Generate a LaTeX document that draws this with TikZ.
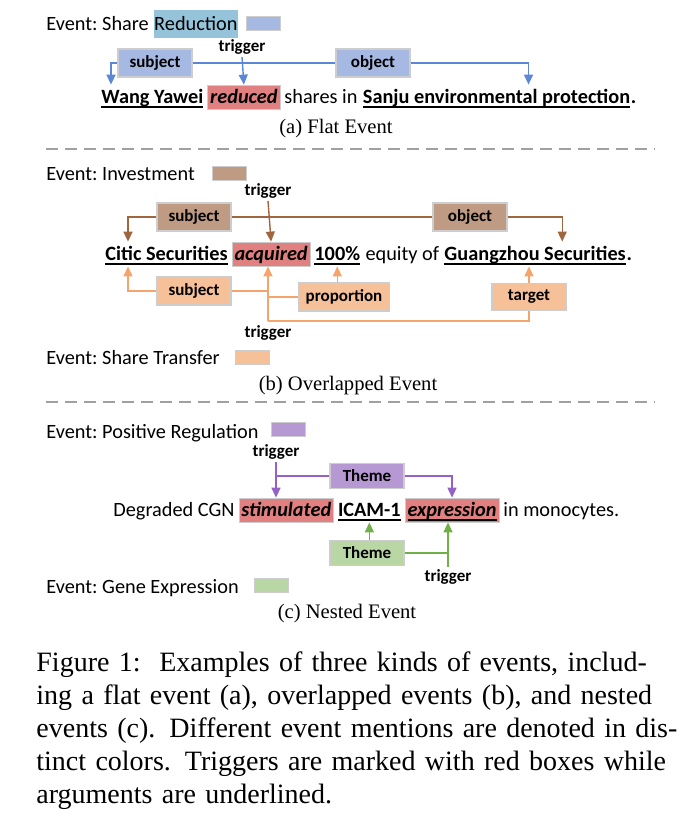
\documentclass[tikz,border=0pt]{standalone}
\usepackage{fontspec}
\setmainfont{Liberation Serif}
\newfontfamily\calib{Carlito}
\usetikzlibrary{arrows.meta,positioning,calc}
\definecolor{evBlueFill}  {RGB}{166,185,226}
\definecolor{evBlueLine}  {RGB}{ 92,135,214}
\definecolor{evTeal}      {RGB}{148,195,218}
\definecolor{evRed}       {RGB}{224,128,128}
\definecolor{evBrownFill} {RGB}{192,155,132}
\definecolor{evBrownLine} {RGB}{160,102, 62}
\definecolor{evOrangeFill}{RGB}{246,192,152}
\definecolor{evOrangeLine}{RGB}{244,164,108}
\definecolor{evPurpleFill}{RGB}{182,152,210}
\definecolor{evPurpleLine}{RGB}{150, 96,200}
\definecolor{evGreenFill} {RGB}{184,215,165}
\definecolor{evGreenLine} {RGB}{112,176, 72}
\definecolor{evBorder}    {RGB}{205,205,205}
\definecolor{evDash}      {RGB}{160,160,160}
\newcommand{\wsz}{\fontsize{10.15}{12}\selectfont\frenchspacing}
\newsavebox{\evulbox}
\newcommand{\evul}[1]{\sbox{\evulbox}{#1}\rlap{\rule[-2.4pt]{\wd\evulbox}{0.7pt}}\usebox{\evulbox}}
\newcommand{\capline}[1]{\makebox[315pt][s]{#1}}

\begin{document}
\begin{tikzpicture}[x=0.5pt,y=-0.5pt,
  every node/.style={font=\calib\wsz},
  evt/.style={anchor=base west,inner sep=0pt},
  wrd/.style={inner xsep=0pt,inner ysep=1.5pt,text height=7.5pt,text depth=1.5pt},
  bwrd/.style={wrd,font=\calib\wsz\bfseries},
  trig/.style={wrd,fill=evRed,draw=evBorder,line width=0.4pt,inner xsep=1.2pt,
               font=\calib\wsz\bfseries\itshape},
  arg/.style={draw=evBorder,line width=0.6pt,minimum width=37pt,minimum height=12.5pt,
              inner xsep=3.5pt,font=\calib\bfseries\fontsize{8.5}{10}\selectfont},
  lbl/.style={inner sep=1pt,font=\calib\bfseries\fontsize{8.5}{10}\selectfont},
  swatch/.style={draw=evBorder,line width=0.4pt,minimum width=17pt,minimum height=7pt,inner sep=0pt},
  sub/.style={font=\rmfamily\fontsize{10.3}{12}\selectfont},
  sep/.style={draw=evDash,line width=1pt,dash pattern=on 6pt off 3.5pt},
  ln/.style={line width=0.7pt},
  arr/.style={ln,-{Triangle[length=5pt,width=4.5pt]}}
]
\useasboundingbox (0,0) rectangle (695,832);

% (a) flat event
\node[evt] (evA) at (46,30) {Event: Share};
\node[wrd,fill=evTeal,inner ysep=2.5pt,base right=2.3pt of evA] (hlA) {Reduction};
\node[swatch,fill=evBlueFill] (swA) at (263,23) {};
\node[lbl] (tA) at (242,47) {trigger};
\node[arg,fill=evBlueFill] (sA) at (155,63) {subject};
\node[arg,fill=evBlueFill] (oA) at (373,63) {object};
\node[bwrd,anchor=base west] (wA1) at (101,103) {\evul{Wang Yawei}};
\node[trig,base right=1.8pt of wA1] (wA2) {reduced};
\node[wrd,base right=1.8pt of wA2] (wA3) {shares in};
\node[bwrd,base right=2.3pt of wA3] (wA4) {\evul{Sanju environmental protection}};
\node[bwrd,base right=0pt of wA4] (wA5) {.};
\draw[arr,evBlueLine] (sA.west) -| ([xshift=5pt]wA1.north west);
\draw[arr,evBlueLine] (tA.south) -- (wA2.north);
\draw[ln,evBlueLine] (sA.east) -- (oA.west);
\draw[arr,evBlueLine] (oA.east) -| ([xshift=-51pt]wA4.north east);
\node[sub] (capA) at (336,129) {(a) Flat Event};
\draw[sep] (46,149) -- (655,149);

% (b) overlapped event
\node[evt] (evB) at (46,180) {Event: Investment};
\node[swatch,fill=evBrownFill] (swB) at (229,173) {};
\node[lbl] (tB) at (268,191) {trigger};
\node[arg,fill=evBrownFill] (sB) at (194,217) {subject};
\node[arg,fill=evBrownFill] (oB) at (470,217) {object};
\node[bwrd,anchor=base west] (wB1) at (105,260) {\evul{Citic Securities}};
\node[trig,base right=1.8pt of wB1] (wB2) {acquired};
\node[bwrd,base right=1.8pt of wB2] (wB3) {\evul{100\%}};
\node[wrd,base right=2.3pt of wB3] (wB4) {equity of};
\node[bwrd,base right=2.3pt of wB4] (wB5) {\evul{Guangzhou Securities}};
\node[bwrd,base right=0pt of wB5] (wB6) {.};
\draw[arr,evBrownLine] (sB.west) -| ([xshift=11.5pt]wB1.north west);
\draw[arr,evBrownLine] (tB.south) -- (wB2.north);
\draw[ln,evBrownLine] (sB.east) -- (oB.west);
\draw[arr,evBrownLine] (oB.east) -| ([xshift=-32pt]wB5.north east);
\node[arg,fill=evOrangeFill] (sB2) at (194,291) {subject};
\node[arg,fill=evOrangeFill] (pB) at (344,297) {proportion};
\node[arg,fill=evOrangeFill] (gB) at (529,297) {target};
\coordinate (jB) at (268,321);
\node[lbl,below=1pt of jB] (tB2) {trigger};
\draw[arr,evOrangeLine] (jB) -- (jB |- wB2.south);
\draw[ln,evOrangeLine] (jB) -| (gB.south);
\draw[ln,evOrangeLine] (sB2.east) -- (sB2.east -| jB);
\draw[ln,evOrangeLine] (pB.west) -- (pB.west -| jB);
\draw[arr,evOrangeLine] (sB2.west) -| ([xshift=11.5pt]wB1.south west);
\draw[arr,evOrangeLine] (pB.north -| wB3.south) -- (wB3.south);
\draw[arr,evOrangeLine] (gB.north) -- (gB.north |- wB5.south);
\node[evt] (evB2) at (46,364) {Event: Share Transfer};
\node[swatch,fill=evOrangeFill] (swB2) at (252,357) {};
\node[sub] (capB) at (348,386) {(b) Overlapped Event};
\draw[sep] (46,402) -- (655,402);

% (c) nested event
\node[evt] (evC) at (46,438) {Event: Positive Regulation};
\node[swatch,fill=evPurpleFill] (swC) at (288,429) {};
\node[lbl] (tC) at (276,452) {trigger};
\node[arg,fill=evPurpleFill] (thC) at (367,476) {Theme};
\node[wrd,anchor=base west] (wC1) at (113,516) {Degraded CGN};
\node[trig,base right=1.8pt of wC1] (wC2) {stimulated};
\node[bwrd,base right=1.8pt of wC2] (wC3) {\evul{ICAM-1}};
\node[trig,base right=1.8pt of wC3] (wC4) {\evul{expression}};
\node[wrd,base right=1.8pt of wC4] (wC5) {in monocytes.};
\draw[arr,evPurpleLine] (tC.south) -- (tC.south |- wC2.north);
\draw[ln,evPurpleLine] (thC.west) -- (thC.west -| tC.south);
\draw[arr,evPurpleLine] (thC.east) -| (wC4.north);
\node[arg,fill=evGreenFill] (thC2) at (367,553) {Theme};
\node[lbl] (tC2) at (448,577) {trigger};
\draw[arr,evGreenLine] (thC2.north -| wC3.south) -- (wC3.south);
\draw[arr,evGreenLine] (tC2.north) -- (tC2.north |- wC4.south);
\draw[ln,evGreenLine] (thC2.east) -- (thC2.east -| tC2.north);
\node[evt] (evC2) at (46,593) {Event: Gene Expression};
\node[swatch,fill=evGreenFill] (swC2) at (271,585) {};
\node[sub] (capC) at (347,614) {(c) Nested Event};

% caption
\node[font=\rmfamily\fontsize{14}{16.5}\selectfont,text width=315pt,align=left,
      inner sep=0pt,anchor=north west] (fig) at (36,651) {%
  \capline{Figure 1:\ \ Examples of three kinds of events, includ-}\\
  \capline{ing a flat event (a), overlapped events (b), and nested}\\
  \capline{events (c). Different event mentions are denoted in dis-}\\
  \capline{tinct colors. Triggers are marked with red boxes while}\\
  arguments are underlined.};
\end{tikzpicture}
\end{document}
